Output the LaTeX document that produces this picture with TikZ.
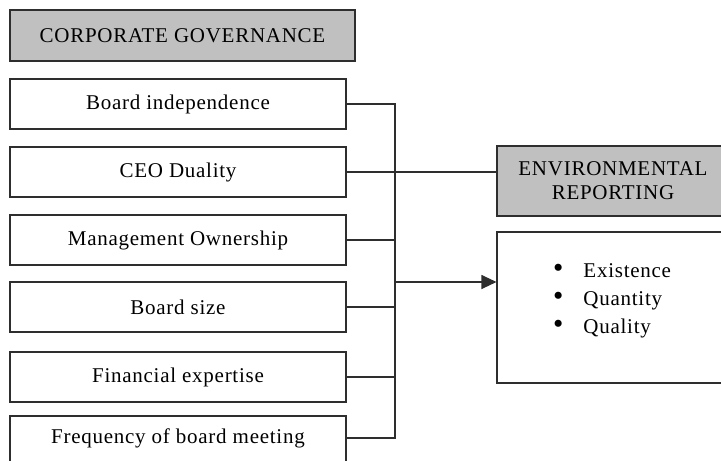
\documentclass[tikz,border=0pt]{standalone}
\usepackage{fontspec}
\usepackage{graphicx}
\setmainfont{Liberation Serif}
\usetikzlibrary{arrows.meta}
\definecolor{boxgray}{HTML}{C0C0C0}
\definecolor{linegray}{HTML}{2E2E2E}
\newcommand{\bigdot}{\raisebox{-0.5pt}{\scalebox{1.4}{\textbullet}}}
\begin{document}
\begin{tikzpicture}[x=1pt,y=-1pt,
  txt/.style={font=\fontsize{21}{25}\selectfont\addfontfeature{LetterSpace=3.5}},
  varbox/.style={draw=linegray,line width=1.1pt,fill=white,minimum width=336pt,minimum height=50pt,inner sep=0pt,txt},
  headbox/.style={draw=linegray,line width=1.1pt,fill=boxgray,inner sep=0pt,txt},
  item/.style={txt,anchor=base west,inner sep=0pt},
  link/.style={draw=linegray,line width=1.1pt}]
\useasboundingbox (0,0) rectangle (721,461);
\clip (0,0) rectangle (721,461);
% dependent-side header and variables
\node[headbox,minimum width=345pt,minimum height=51pt] (cg) at (182.5,35.5) {CORPORATE GOVERNANCE};
\node[varbox] (bi) at (178,104) {Board independence};
\node[varbox] (ceo) at (178,172) {CEO Duality};
\node[varbox] (mo) at (178,240) {Management Ownership};
\node[varbox] (bs) at (178,307) {Board size};
\node[varbox] (fe) at (178,377) {Financial expertise};
\node[varbox] (fb) at (178,441) {};
\node[txt] (fbt) at (178,438) {Frequency of board meeting};
% outcome side
\node[headbox,minimum width=232pt,minimum height=70pt,align=center] (er) at (613,181) {ENVIRONMENTAL\\[-1pt]REPORTING};
\node[draw=linegray,line width=1.1pt,minimum width=232pt,minimum height=151pt,inner sep=0pt] (er2) at (613,307.5) {};
\node[item] (l1) at (553,277) {\bigdot\hspace{20pt}Existence};
\node[item] (l2) at (553,305) {\bigdot\hspace{20pt}Quantity};
\node[item] (l3) at (553,333) {\bigdot\hspace{20pt}Quality};
% connectors into the trunk
\coordinate (t1) at (395,104);
\coordinate (t6) at (395,438);
\coordinate (ta) at (395,282);
\draw[link] (bi.east) -- (t1) -- (t6) -- (fbt.east -| fb.east);
\draw[link] (ceo.east) -- (ceo.east -| er.west);
\draw[link] (mo.east) -- (mo.east -| t1);
\draw[link] (bs.east) -- (bs.east -| t1);
\draw[link] (fe.east) -- (fe.east -| t1);
\draw[link,-{Triangle[length=15pt,width=14pt]}] (ta) -- (ta -| er2.west);
\end{tikzpicture}
\end{document}
